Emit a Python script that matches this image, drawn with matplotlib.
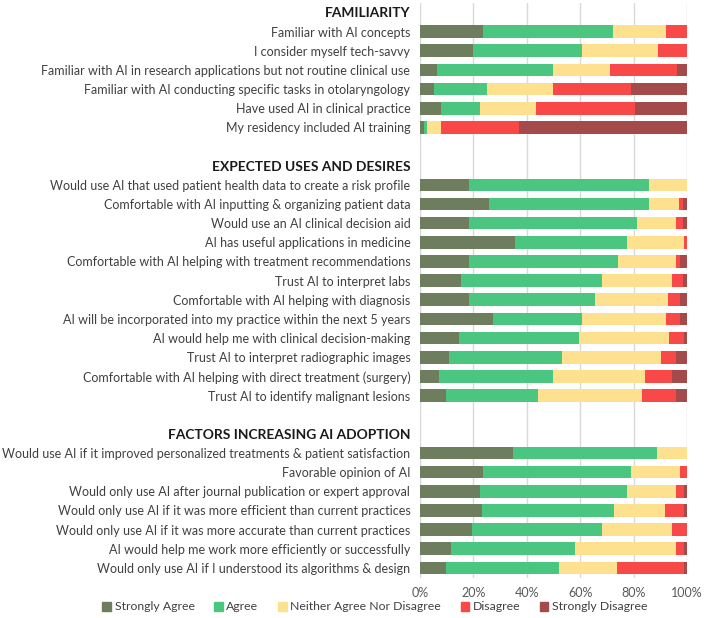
import numpy as np
import matplotlib.pyplot as plt
from matplotlib.patches import Patch

plt.rcParams['font.family'] = ['Lato', 'DejaVu Sans']

# Section headers and item labels (top to bottom)
headers = ["FAMILIARITY", "EXPECTED USES AND DESIRES", "FACTORS INCREASING AI ADOPTION"]

familiarity = [
    "Familiar with AI concepts",
    "I consider myself tech-savvy",
    "Familiar with AI in research applications but not routine clinical use",
    "Familiar with AI conducting specific tasks in otolaryngology",
    "Have used AI in clinical practice",
    "My residency included AI training",
]
uses = [
    "Would use AI that used patient health data to create a risk profile",
    "Comfortable with AI inputting & organizing patient data",
    "Would use an AI clinical decision aid",
    "AI has useful applications in medicine",
    "Comfortable with AI helping with treatment recommendations",
    "Trust AI to interpret labs",
    "Comfortable with AI helping with diagnosis",
    "AI will be incorporated into my practice within the next 5 years",
    "AI would help me with clinical decision-making",
    "Trust AI to interpret radiographic images",
    "Comfortable with AI helping with direct treatment (surgery)",
    "Trust AI to identify malignant lesions",
]
factors = [
    "Would use AI if it improved personalized treatments & patient satisfaction",
    "Favorable opinion of AI",
    "Would only use AI after journal publication or expert approval",
    "Would only use AI if it was more efficient than current practices",
    "Would only use AI if it was more accurate than current practices",
    "AI would help me work more efficiently or successfully",
    "Would only use AI if I understood its algorithms & design",
]

# Percent of respondents per answer (same order as the item lists above)
strongly_agree = [23.7, 19.7, 6.2, 5.2, 7.9, 1.5,
                  18.5, 25.7, 18.5, 35.5, 18.5, 15.3, 18.5, 27.4, 14.5, 11.0, 7.2, 9.7,
                  34.8, 23.7, 22.4, 23.2, 19.5, 11.7, 9.7]
agree = [48.5, 40.9, 43.7, 19.9, 14.5, 1.2,
         67.2, 60.0, 62.9, 42.2, 55.7, 52.8, 47.2, 33.2, 44.9, 42.0, 42.7, 34.6,
         54.1, 55.2, 55.3, 49.4, 48.6, 46.3, 42.3]
neutral = [19.8, 28.7, 21.2, 24.8, 21.1, 5.0,
           14.3, 11.3, 14.4, 21.1, 21.6, 26.4, 27.2, 31.4, 34.0, 37.1, 34.4, 39.0,
           11.1, 18.4, 18.3, 19.2, 26.4, 38.0, 21.9]
disagree = [8.0, 10.7, 25.0, 29.0, 36.9, 29.3,
            0.0, 1.5, 2.7, 1.2, 1.5, 4.0, 4.4, 5.5, 5.4, 5.7, 10.0, 12.5,
            0.0, 2.7, 2.8, 7.0, 5.5, 2.8, 24.9]
strongly_disagree = [0.0, 0.0, 3.9, 21.1, 19.6, 63.0,
                     0.0, 1.5, 1.5, 0.0, 2.7, 1.5, 2.7, 2.5, 1.2, 4.2, 5.7, 4.2,
                     0.0, 0.0, 1.2, 1.2, 0.0, 1.2, 1.2]

answers = ["Strongly Agree", "Agree", "Neither Agree Nor Disagree", "Disagree", "Strongly Disagree"]
colors = ['#6e7d5d', '#4bc680', '#fde18f', '#f94848', '#a54a4b']

# Lay out rows: header, items, blank gap between sections
tick_labels = []
header_rows = []
item_rows = []
for s, (head, items) in enumerate(zip(headers, [familiarity, uses, factors])):
    if s > 0:
        tick_labels.append("")
    header_rows.append(len(tick_labels))
    tick_labels.append(head)
    for it in items:
        item_rows.append(len(tick_labels))
        tick_labels.append(it)
rows = np.arange(len(tick_labels))
item_rows = np.array(item_rows)

fig = plt.figure(figsize=(7.09, 6.18), dpi=100)
ax = fig.add_axes([420 / 709, 1 - 577.5 / 618, 267 / 709, 574.6 / 618])

left = np.zeros(len(item_rows))
for vals, name, c in zip([strongly_agree, agree, neutral, disagree, strongly_disagree],
                         answers, colors):
    vals = np.array(vals)
    ax.barh(item_rows, vals, left=left, height=0.66, color=c, label=name, zorder=3)
    left += vals

ax.set_xlim(0, 100)
ax.set_ylim(len(tick_labels) - 0.5, -0.5)
ax.set_xticks(np.arange(0, 101, 20))
ax.set_xticklabels([f"{v}%" for v in range(0, 101, 20)])
ax.set_yticks(rows)
ax.set_yticklabels(tick_labels)
ax.tick_params(axis='y', length=0, pad=7, labelsize=9.0, labelcolor='#404040')
ax.tick_params(axis='x', length=0, pad=7, labelsize=9.0, labelcolor='#595959')
for r in header_rows:
    lab = ax.get_yticklabels()[r]
    lab.set_fontweight('bold')
    lab.set_fontsize(9.9)
    lab.set_color('#1a1a1a')

ax.grid(axis='x', color='#d9d9d9', lw=1, zorder=0)
for sp in ax.spines.values():
    sp.set_visible(False)

handles = [Patch(color=c, label=n) for c, n in zip(colors, answers)]
fig.legend(handles=handles, loc='center', bbox_to_anchor=(375 / 709, 1 - 607 / 618),
           ncol=5, frameon=False, fontsize=8.8, handlelength=0.7, handleheight=0.7,
           handletextpad=0.3, columnspacing=1.6, labelcolor='#404040')

fig.savefig('out.png', dpi=100)
